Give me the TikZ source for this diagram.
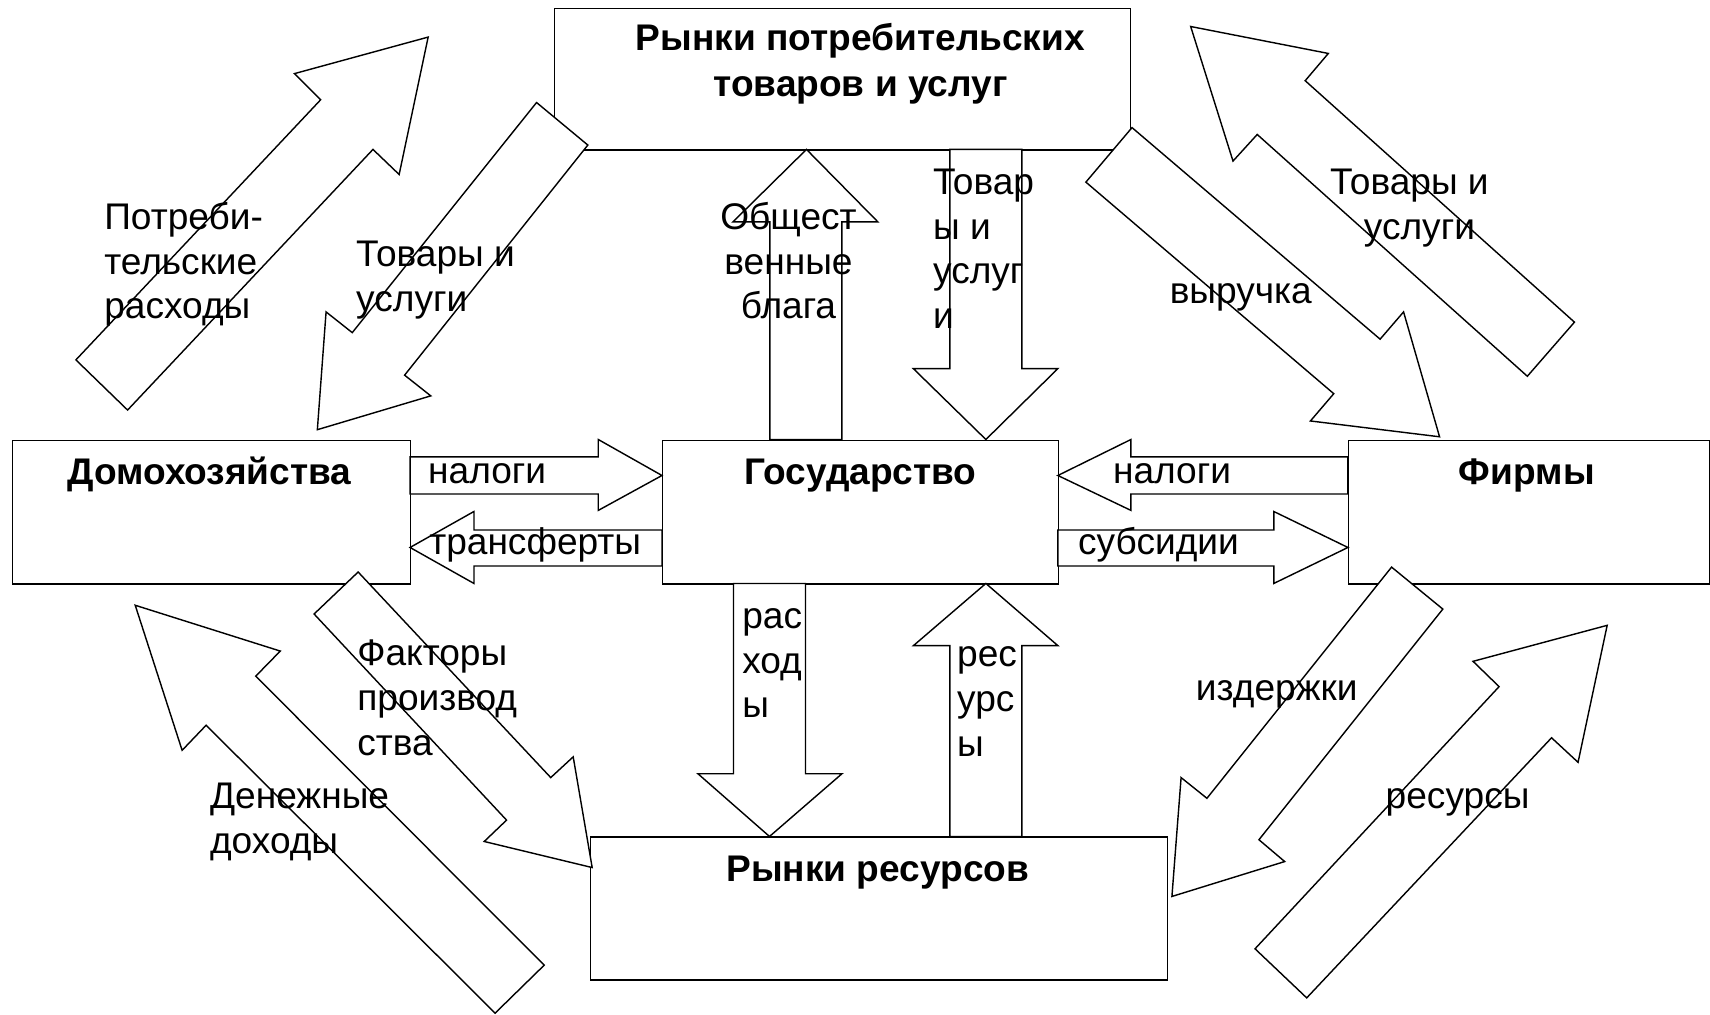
\documentclass[tikz,border=0pt]{standalone}
\usepackage{fontspec}
\setmainfont{Liberation Sans}
\begin{document}
\begin{tikzpicture}[x=1pt,y=-1pt,line width=1.3pt,line join=miter,
  box/.style={draw,rectangle,inner sep=0pt,anchor=north west},
  blk/.style={draw,fill=white},
  lbl/.style={inner sep=0pt,anchor=north west,align=left,font=\fontsize{34}{41}\selectfont},
  clbl/.style={inner sep=0pt,anchor=north,align=center,font=\fontsize{34}{41}\selectfont},
  ttl/.style={inner sep=0pt,anchor=north,align=center,font=\fontsize{34}{42}\selectfont\bfseries}]
\fill[white] (0,0) rectangle (1568,930);
\useasboundingbox (0,0) rectangle (1568,930);

% boxes
\node[box,minimum width=528pt,minimum height=130pt] (top) at (508,7) {};
\node[box,minimum width=365pt,minimum height=132pt] (hh) at (11,403) {};
\node[box,minimum width=363pt,minimum height=132pt] (gov) at (607,403) {};
\node[box,minimum width=331pt,minimum height=132pt] (firm) at (1236,403) {};
\node[box,minimum width=529pt,minimum height=131pt] (res) at (541,767) {};

% diagonal block arrows
\draw[blk] (69.6,330) -- (294,91.5) -- (270,67.5) -- (392.6,34) -- (366,160) -- (342,137) -- (117,376) -- cycle;
\draw[blk] (492,94) -- (323,305) -- (299,286) -- (291,394) -- (395,363) -- (371,344) -- (539,133) -- cycle;
\draw[blk] (1038,117) -- (1265.5,311) -- (1287,286) -- (1320,400.5) -- (1201.6,386) -- (1223,361) -- (995.7,167) -- cycle;
\draw[blk] (1091.8,24.3) -- (1218,49) -- (1196.8,74) -- (1443.7,295.4) -- (1400.5,345) -- (1152.8,123.3) -- (1130.6,147.7) -- cycle;
\draw[blk] (124,555) -- (257,597) -- (234.5,620) -- (499,885) -- (454,929) -- (189,665) -- (167,688) -- cycle;
\draw[blk] (328.4,524.5) -- (505,713) -- (525.6,694) -- (543,795.5) -- (444,771.6) -- (464.5,752) -- (288,563) -- cycle;
\draw[blk] (1276,520) -- (1106.7,732) -- (1083,713) -- (1074.6,822) -- (1178,790) -- (1154.4,770) -- (1323,558.5) -- cycle;
\draw[blk] (1473.7,573.4) -- (1350.7,606.4) -- (1374.6,629.6) -- (1150.8,870) -- (1198.2,915) -- (1422.7,676.5) -- (1447,699) -- cycle;

% horizontal block arrows
\draw[blk] (376,419) -- (548.6,419) -- (548.6,403) -- (607,436) -- (548.6,468) -- (548.6,453) -- (376,453) -- cycle;
\draw[blk] (607,486) -- (434.6,486) -- (434.6,469) -- (376,502) -- (434.6,535) -- (434.6,519) -- (607,519) -- cycle;
\draw[blk] (1236,419) -- (1037,419) -- (1037,403) -- (970,436) -- (1037,468) -- (1037,453) -- (1236,453) -- cycle;
\draw[blk] (970,486) -- (1168,486) -- (1168,469) -- (1236,502) -- (1168,535) -- (1168,519) -- (970,519) -- cycle;

% vertical block arrows
\draw[blk] (706,403) -- (706,203.5) -- (672,203.5) -- (739.5,137) -- (805,203.5) -- (772,203.5) -- (772,403) -- cycle;
\draw[blk] (871,137) -- (871,338) -- (837.5,338) -- (904,403) -- (970,338) -- (937,338) -- (937,137) -- cycle;
\draw[blk] (672.6,535) -- (672.6,709.5) -- (640,709.5) -- (705.6,767) -- (772,709.5) -- (738.6,709.5) -- (738.6,535) -- cycle;
\draw[blk] (871,767) -- (871,592) -- (837.6,592) -- (904,535) -- (970,592) -- (937,592) -- (937,767) -- cycle;

% titles
\node[ttl] (ttop) at (789,16) {\strut Рынки потребительских\\товаров и услуг};
\node[ttl] (thh) at (192,414) {\strut Домохозяйства};
\node[ttl] (tgov) at (789,414) {\strut Государство};
\node[ttl] (tfirm) at (1400,414) {\strut Фирмы};
\node[ttl] (tres) at (805,778) {\strut Рынки ресурсов};

% labels
\node[lbl] (l1) at (95,181) {\strut Потреби-\\тельские\\расходы};
\node[lbl] (l2) at (326,215) {\strut Товары и\\услуги};
\node[lbl] (l3) at (1219,149) {\strut Товары и\\\hspace*{31pt}услуги};
\node[lbl] (l4) at (1072,249) {\strut выручка};
\node[lbl] (l5) at (327,581) {\strut Факторы\\производ\\ства};
\node[lbl] (l6) at (192,712) {\strut Денежные\\доходы};
\node[lbl] (l7) at (1096,613) {\strut издержки};
\node[lbl] (l8) at (1270,712) {\strut ресурсы};
\node[clbl] (l9) at (723,181) {\strut Общест\\венные\\блага};
\node[lbl] (l10) at (855,149) {\strut Товар\\ы и\\услуг\\и};
\node[lbl] (l11) at (680,547) {\strut рас\\ход\\ы};
\node[lbl] (l12) at (877,582) {\strut рес\\урс\\ы};
\node[lbl] (l13) at (392,414) {\strut налоги};
\node[lbl] (l14) at (393,479) {\strut трансферты};
\node[lbl] (l15) at (1020,414) {\strut налоги};
\node[lbl] (l16) at (988,479) {\strut субсидии};
\end{tikzpicture}
\end{document}
